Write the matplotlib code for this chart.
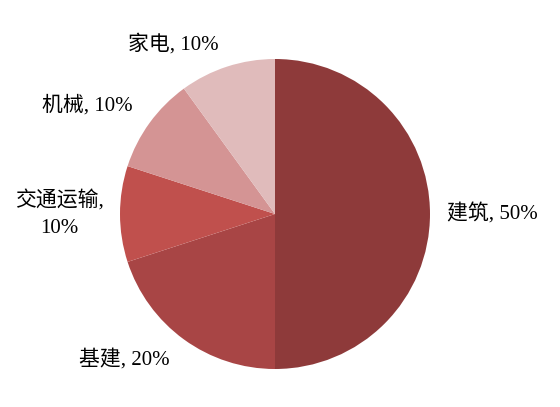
import numpy as np
import matplotlib.pyplot as plt

plt.rcParams['font.family'] = ['Liberation Serif', 'Noto Sans CJK SC']

# 数据
categories = ['建筑', '基建', '交通运输', '机械', '家电']
shares = [50, 20, 10, 10, 10]
colors = ['#8E3A3A', '#A84545', '#C0504D', '#D49494', '#E0BBBB']
label_texts = ['建筑, 50%', '基建, 20%', '交通运输,\n10%', '机械, 10%', '家电, 10%']

fig = plt.figure(figsize=(5.6, 4.07), dpi=100)
ax = fig.add_axes([0, 0, 1, 1])

wedges, _ = ax.pie(shares, colors=colors, startangle=90, counterclock=False,
                   radius=1, wedgeprops=dict(edgecolor='none', linewidth=0))

# 标签位置: (角度偏移, 距离)
label_pos = [(0, 1.40), (-10, 1.35), (0, 1.39), (6, 1.40), (13, 1.28)]
for w, txt, (doff, dist) in zip(wedges, label_texts, label_pos):
    ang = np.deg2rad((w.theta1 + w.theta2) / 2 + doff)
    ax.text(dist * np.cos(ang), dist * np.sin(ang), txt, ha='center', va='center',
            fontsize=15, color='black', linespacing=1.5)

ax.set_xlim(-275 / 155, 285 / 155)
ax.set_ylim(-193 / 155, 214 / 155)
ax.set_aspect('auto')
ax.axis('off')

plt.savefig('out.png', dpi=100)
